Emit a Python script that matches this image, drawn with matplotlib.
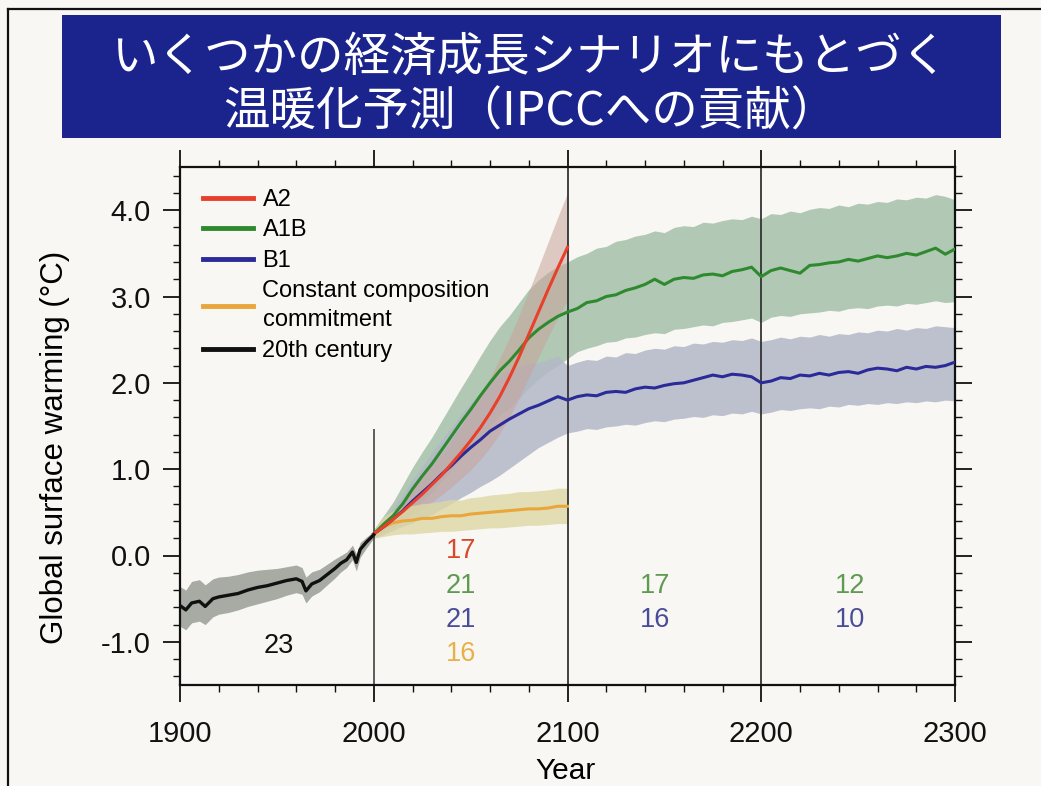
import matplotlib
matplotlib.use("Agg")
import matplotlib.pyplot as plt
from matplotlib.patches import Rectangle
from matplotlib.lines import Line2D
import numpy as np

# ---------------- data ----------------
title_line1 = "いくつかの経済成長シナリオにもとづく"
title_line2 = "温暖化予測（IPCCへの貢献）"

years_20c = [1900, 1903, 1906, 1910, 1913, 1917, 1920, 1925, 1930, 1935, 1940, 1945,
             1950, 1955, 1960, 1963, 1965, 1968, 1972, 1976, 1980, 1983, 1986, 1989,
             1991, 1993, 1996, 2000]
mean_20c = [-0.58, -0.63, -0.55, -0.53, -0.59, -0.50, -0.48, -0.46, -0.44, -0.40, -0.37, -0.35,
            -0.32, -0.29, -0.27, -0.30, -0.41, -0.33, -0.29, -0.22, -0.15, -0.09, -0.05, 0.04,
            -0.08, 0.07, 0.15, 0.24]
upper_20c = [-0.36, -0.40, -0.30, -0.28, -0.34, -0.27, -0.25, -0.24, -0.22, -0.19, -0.17, -0.16,
             -0.15, -0.13, -0.11, -0.14, -0.25, -0.19, -0.16, -0.10, -0.04, 0.00, 0.04, 0.12,
             0.02, 0.15, 0.21, 0.28]
lower_20c = [-0.82, -0.86, -0.78, -0.76, -0.80, -0.71, -0.68, -0.66, -0.63, -0.59, -0.56, -0.53,
             -0.50, -0.46, -0.43, -0.45, -0.55, -0.47, -0.42, -0.34, -0.26, -0.19, -0.14, -0.05,
             -0.18, -0.02, 0.08, 0.20]

years_21c = [2000, 2005, 2010, 2015, 2020, 2025, 2030, 2035, 2040, 2045, 2050,
             2055, 2060, 2065, 2070, 2075, 2080, 2085, 2090, 2095, 2100]

a2_mean = [0.25, 0.33, 0.42, 0.51, 0.61, 0.71, 0.82, 0.93, 1.06, 1.19, 1.33,
           1.48, 1.65, 1.84, 2.06, 2.30, 2.56, 2.82, 3.08, 3.33, 3.57]
a2_upper = [0.30, 0.40, 0.52, 0.64, 0.77, 0.90, 1.04, 1.18, 1.34, 1.50, 1.68,
            1.86, 2.06, 2.28, 2.52, 2.78, 3.06, 3.34, 3.63, 3.92, 4.20]
a2_lower = [0.20, 0.26, 0.33, 0.40, 0.47, 0.54, 0.62, 0.70, 0.79, 0.89, 0.99,
            1.11, 1.25, 1.41, 1.60, 1.82, 2.06, 2.30, 2.53, 2.75, 2.96]

cc_mean = [0.25, 0.33, 0.38, 0.40, 0.41, 0.43, 0.43, 0.45, 0.46, 0.46, 0.48,
           0.49, 0.50, 0.51, 0.52, 0.53, 0.54, 0.54, 0.55, 0.57, 0.57]
cc_upper = [0.30, 0.45, 0.52, 0.56, 0.58, 0.60, 0.61, 0.63, 0.65, 0.64, 0.67,
            0.68, 0.70, 0.71, 0.72, 0.74, 0.74, 0.75, 0.76, 0.78, 0.78]
cc_lower = [0.20, 0.22, 0.24, 0.25, 0.25, 0.26, 0.27, 0.28, 0.28, 0.29, 0.30,
            0.31, 0.32, 0.32, 0.33, 0.34, 0.35, 0.35, 0.36, 0.37, 0.37]

years_long = [2000, 2005, 2010, 2015, 2020, 2025, 2030, 2035, 2040, 2045, 2050,
              2055, 2060, 2065, 2070, 2075, 2080, 2085, 2090, 2095, 2100,
              2105, 2110, 2115, 2120, 2125, 2130, 2135, 2140, 2145, 2150,
              2155, 2160, 2165, 2170, 2175, 2180, 2185, 2190, 2195, 2200,
              2205, 2210, 2215, 2220, 2225, 2230, 2235, 2240, 2245, 2250,
              2255, 2260, 2265, 2270, 2275, 2280, 2285, 2290, 2295, 2300]

a1b_mean = [0.25, 0.36, 0.46, 0.60, 0.77, 0.92, 1.06, 1.22, 1.38, 1.54, 1.69,
            1.85, 2.00, 2.14, 2.25, 2.38, 2.52, 2.62, 2.70, 2.77, 2.82,
            2.86, 2.93, 2.95, 3.00, 3.02, 3.07, 3.10, 3.14, 3.20, 3.14,
            3.20, 3.22, 3.21, 3.25, 3.26, 3.24, 3.29, 3.31, 3.34, 3.23,
            3.30, 3.33, 3.30, 3.27, 3.36, 3.37, 3.39, 3.40, 3.43, 3.41,
            3.44, 3.47, 3.45, 3.47, 3.50, 3.48, 3.52, 3.56, 3.49, 3.55]
a1b_upper = [0.30, 0.46, 0.62, 0.82, 1.02, 1.20, 1.37, 1.56, 1.75, 1.94, 2.12,
             2.31, 2.49, 2.65, 2.78, 2.93, 3.08, 3.19, 3.28, 3.35, 3.40,
             3.46, 3.50, 3.56, 3.58, 3.64, 3.66, 3.70, 3.72, 3.76, 3.74,
             3.80, 3.82, 3.81, 3.86, 3.85, 3.88, 3.90, 3.89, 3.93, 3.90,
             3.96, 3.95, 3.99, 3.97, 4.01, 4.03, 4.02, 4.06, 4.04, 4.08,
             4.07, 4.10, 4.09, 4.13, 4.12, 4.15, 4.14, 4.18, 4.16, 4.12]
a1b_lower = [0.20, 0.28, 0.32, 0.40, 0.52, 0.63, 0.73, 0.86, 0.99, 1.12, 1.24,
             1.37, 1.50, 1.62, 1.71, 1.82, 1.94, 2.04, 2.13, 2.20, 2.28,
             2.36, 2.40, 2.43, 2.47, 2.48, 2.52, 2.53, 2.56, 2.58, 2.57,
             2.62, 2.63, 2.65, 2.67, 2.66, 2.70, 2.71, 2.73, 2.75, 2.70,
             2.76, 2.78, 2.77, 2.80, 2.81, 2.82, 2.84, 2.83, 2.86, 2.87,
             2.86, 2.89, 2.90, 2.89, 2.92, 2.91, 2.93, 2.95, 2.93, 2.94]

b1_mean = [0.25, 0.33, 0.42, 0.52, 0.63, 0.73, 0.83, 0.94, 1.04, 1.15, 1.25,
           1.34, 1.44, 1.51, 1.58, 1.64, 1.70, 1.74, 1.79, 1.84, 1.80,
           1.84, 1.86, 1.85, 1.89, 1.90, 1.89, 1.93, 1.95, 1.94, 1.97,
           1.99, 2.00, 2.03, 2.06, 2.09, 2.07, 2.10, 2.09, 2.07, 2.00,
           2.02, 2.06, 2.05, 2.09, 2.08, 2.11, 2.09, 2.12, 2.13, 2.11,
           2.15, 2.17, 2.16, 2.14, 2.18, 2.16, 2.19, 2.18, 2.20, 2.24]
b1_upper = [0.30, 0.42, 0.55, 0.70, 0.88, 1.03, 1.19, 1.34, 1.48, 1.63, 1.77,
            1.88, 2.02, 2.09, 2.15, 2.19, 2.23, 2.23, 2.27, 2.31, 2.20,
            2.24, 2.27, 2.26, 2.31, 2.30, 2.35, 2.34, 2.38, 2.40, 2.39,
            2.43, 2.42, 2.46, 2.45, 2.48, 2.47, 2.50, 2.49, 2.52, 2.48,
            2.50, 2.53, 2.51, 2.54, 2.53, 2.56, 2.54, 2.57, 2.56, 2.59,
            2.58, 2.61, 2.60, 2.63, 2.61, 2.64, 2.63, 2.66, 2.65, 2.64]
b1_lower = [0.20, 0.24, 0.29, 0.34, 0.38, 0.43, 0.47, 0.54, 0.60, 0.67, 0.73,
            0.80, 0.86, 0.93, 1.01, 1.09, 1.17, 1.25, 1.31, 1.37, 1.42,
            1.44, 1.47, 1.46, 1.49, 1.50, 1.52, 1.51, 1.54, 1.56, 1.55,
            1.58, 1.59, 1.61, 1.60, 1.63, 1.62, 1.65, 1.64, 1.67, 1.64,
            1.66, 1.69, 1.68, 1.70, 1.71, 1.70, 1.73, 1.72, 1.75, 1.74,
            1.76, 1.75, 1.77, 1.76, 1.78, 1.77, 1.79, 1.78, 1.80, 1.79]

legend_labels = ["A2", "A1B", "B1", "Constant composition\ncommitment", "20th century"]

# number-of-models annotations: (label, year, value, colour key)
annot_text = ["23", "17", "21", "21", "16", "17", "16", "12", "10"]
annot_year = [1951, 2045, 2045, 2045, 2045, 2145, 2145, 2246, 2246]
annot_val = [-1.05, 0.05, -0.35, -0.75, -1.14, -0.35, -0.75, -0.35, -0.75]
annot_key = ["k", "a2", "a1b", "b1", "cc", "a1b", "b1", "a1b", "b1"]

x_ticks = [1900, 2000, 2100, 2200, 2300]
y_ticks = [-1.0, 0.0, 1.0, 2.0, 3.0, 4.0]

# ---------------- style ----------------
W, H = 1041, 786
bg = "#f8f7f3"
col_line = {"a2": "#e8402a", "a1b": "#2f8a2f", "b1": "#2a2a98", "cc": "#e9a63a", "k": "#111111"}
col_text = {"a2": "#d9482a", "a1b": "#5e9a50", "b1": "#4a4c9a", "cc": "#e8b048", "k": "#111111"}
col_band = {"a2": "#c9a49b", "a1b": "#a9c3ae", "b1": "#b3b8c8", "cc": "#ddd7a4", "k": "#9ea39c"}

plt.rcParams['font.family'] = ['Liberation Sans', 'DejaVu Sans']

fig = plt.figure(figsize=(W / 100, H / 100), dpi=100, facecolor=bg)

# slide frame
fig.add_artist(Line2D([8 / W, 8 / W], [0, 1 - 9 / H], transform=fig.transFigure, color="#111", lw=1.6))
fig.add_artist(Line2D([8 / W, 1], [1 - 9 / H, 1 - 9 / H], transform=fig.transFigure, color="#111", lw=1.6))

# title banner
fig.add_artist(Rectangle((62 / W, 1 - 138 / H), (1001 - 62) / W, (138 - 15) / H,
                         transform=fig.transFigure, facecolor="#1a248c", edgecolor="none"))
fig.text(530 / W, 1 - 57 / H, title_line1, ha="center", va="center", color="white",
         fontsize=33.5, family=["Noto Sans CJK JP", "DejaVu Sans"])
fig.text(530 / W, 1 - 112 / H, title_line2, ha="center", va="center", color="white",
         fontsize=33.5, family=["Noto Sans CJK JP", "DejaVu Sans"])

ax = fig.add_axes([180 / W, 1 - 685 / H, (955 - 180) / W, (685 - 167) / H])
ax.set_facecolor(bg)
ax.set_xlim(1900, 2300)
ax.set_ylim(-1.5, 4.5)

# bands
ax.fill_between(years_long, a1b_lower, a1b_upper, color=col_band["a1b"], lw=0, alpha=0.9, zorder=1)
ax.fill_between(years_long, b1_lower, b1_upper, color=col_band["b1"], lw=0, alpha=0.85, zorder=1.1)
ax.fill_between(years_21c, a2_lower, a2_upper, color=col_band["a2"], lw=0, alpha=0.55, zorder=1.2)
ax.fill_between(years_21c, cc_lower, cc_upper, color=col_band["cc"], lw=0, alpha=0.8, zorder=1.3)
ax.fill_between(years_20c, lower_20c, upper_20c, color=col_band["k"], lw=0, alpha=0.9, zorder=1.3)

# vertical separators
ax.vlines(2000, -1.5, 1.47, color="#444444", lw=1.2, zorder=1.5)
ax.axvline(2100, color="#333333", lw=1.3, zorder=1.5)
ax.axvline(2200, color="#333333", lw=1.3, zorder=1.5)

# mean lines
ax.plot(years_21c, cc_mean, color=col_line["cc"], lw=2.2, zorder=3)
ax.plot(years_long, b1_mean, color=col_line["b1"], lw=2.2, zorder=3.1)
ax.plot(years_long, a1b_mean, color=col_line["a1b"], lw=2.2, zorder=3.2)
ax.plot(years_21c, a2_mean, color=col_line["a2"], lw=2.2, zorder=3.3)
ax.plot(years_20c, mean_20c, color=col_line["k"], lw=2.4, zorder=3.4)

# annotations
for t, yr, v, k in zip(annot_text, annot_year, annot_val, annot_key):
    ax.text(yr, v, t, color=col_text[k], fontsize=19.5, ha="center", va="center", zorder=4)

# legend
handles = [Line2D([], [], color=col_line[k], lw=3.5) for k in ["a2", "a1b", "b1", "cc", "k"]]
leg = ax.legend(handles, legend_labels, loc="upper left",
                bbox_to_anchor=((203 - 180) / 775, 1 - (189 - 167) / 518),
                frameon=False, fontsize=17, handlelength=2.1, handletextpad=0.42,
                labelspacing=0.36, borderpad=0, borderaxespad=0)
for txt in leg.get_texts():
    txt.set_linespacing(1.4)

# ticks
ax.set_xticks(x_ticks)
ax.set_xticklabels([str(v) for v in x_ticks])
ax.set_xticks(np.arange(1900, 2301, 20), minor=True)
ax.set_yticks(y_ticks)
ax.set_yticklabels(["%.1f" % v for v in y_ticks])
ax.set_yticks(np.arange(-1.4, 4.41, 0.2), minor=True)
ax.tick_params(which="both", direction="out", top=True, right=True,
               labeltop=False, labelright=False, colors="#111111")
ax.tick_params(which="major", length=12, width=1.3, labelsize=21)
ax.tick_params(axis="x", which="major", pad=13)
ax.tick_params(axis="y", which="major", pad=9)
ax.tick_params(which="minor", length=5, width=1.0)
for s in ax.spines.values():
    s.set_linewidth(1.6)
    s.set_color("#111111")

ax.set_ylabel("Global surface warming (°C)", fontsize=22.5)
ax.yaxis.set_label_coords((70 - 180) / 775, (685 - 447) / 518)
fig.text(566 / W, 1 - 771 / H, "Year", ha="center", va="center", fontsize=21.5)

fig.savefig("out.png", dpi=100, facecolor=bg)
